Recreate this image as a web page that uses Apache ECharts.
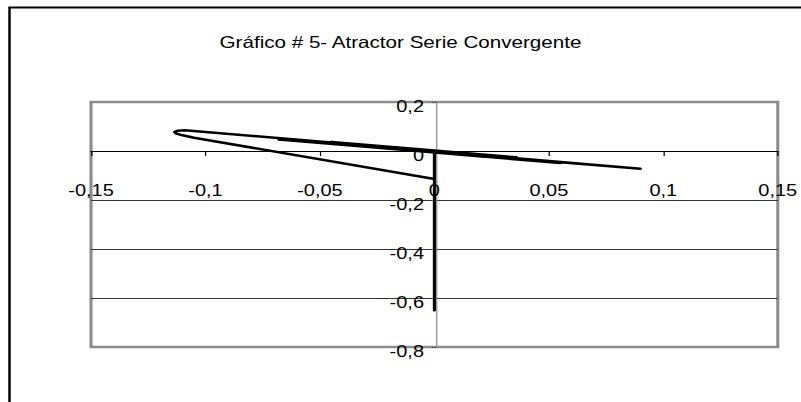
<!DOCTYPE html>
<html>
<head>
<meta charset="utf-8">
<script src="https://cdn.jsdelivr.net/npm/echarts@6/dist/echarts.min.js"></script>
<style>
html,body{margin:0;padding:0;background:#fff;overflow:hidden;}
#wrap{width:801px;height:402px;overflow:hidden;position:relative;}
#chart{width:641px;height:402px;transform:scaleX(1.24961);transform-origin:0 0;}
</style>
</head>
<body>
<div id="wrap"><div id="chart"></div></div>
<script>
// Data
const titleText = 'Gráfico # 5- Atractor Serie Convergente';
const xValues = [0, 0, 0, -0.105, -0.110, -0.1130, -0.1135, -0.112, -0.109, 0.090, -0.068, 0.055, -0.045, 0.036, -0.028, 0.022, -0.017, 0.013, -0.010, 0.008, -0.006, 0.004, -0.003, 0.002, -0.001, 0.0];
const yValues = [0, -0.65, -0.114, 0.054, 0.064, 0.072, 0.078, 0.083, 0.085, -0.072, 0.047, -0.049, 0.037, -0.026, 0.016, -0.023, 0.015, -0.008, 0.002, -0.012, 0.0065, -0.001, 0.0, -0.004, -0.0013, -0.002];
const xTicks = {min: -0.15, max: 0.15, step: 0.05};
const yTicks = {min: -0.8, max: 0.2, step: 0.2};

const seriesData = xValues.map((x, i) => [x, yValues[i]]);
const fmt = v => String(+v.toFixed(2)).replace('.', ',');
const FONT = 'Liberation Sans, Arial, sans-serif';

// layout (inner, unstretched coordinates)
const S = 1.24961;
const gridLeft = 91 / S, gridWidth = 691 / S, gridTop = 102, gridHeight = 245;
// axes cross at zero: offsets derived from the scales
const xAxisOffset = -gridHeight * (0 - yTicks.min) / (yTicks.max - yTicks.min);
const yAxisOffset = -gridWidth * (0 - xTicks.min) / (xTicks.max - xTicks.min);

const chart = echarts.init(document.getElementById('chart'), null, {renderer: 'svg'});
chart.setOption({
  animation: false,
  backgroundColor: '#fff',
  title: {
    text: titleText,
    left: 'center',
    top: 29,
    textStyle: {fontFamily: FONT, fontSize: 16.5, fontWeight: 'normal', color: '#000'}
  },
  graphic: [{
    type: 'rect', silent: true,
    shape: {x: 7.6, y: 7.5, width: 900, height: 500},
    style: {fill: 'none', stroke: '#000', lineWidth: 2}
  }],
  grid: {
    left: gridLeft, top: gridTop, width: gridWidth, height: gridHeight,
    show: true, borderColor: '#8c8c8c', borderWidth: 2.5, backgroundColor: 'transparent'
  },
  xAxis: {
    type: 'value',
    position: 'bottom',
    offset: xAxisOffset,
    min: xTicks.min, max: xTicks.max, interval: xTicks.step,
    axisLine: {show: true, onZero: false, lineStyle: {color: '#000', width: 1}},
    axisTick: {show: true, inside: false, length: 5, lineStyle: {color: '#000'}},
    axisLabel: {margin: 32, fontFamily: FONT, fontSize: 16, color: '#000', formatter: fmt},
    splitLine: {show: false}
  },
  yAxis: {
    type: 'value',
    position: 'left',
    offset: yAxisOffset,
    min: yTicks.min, max: yTicks.max, interval: yTicks.step,
    axisLine: {show: true, onZero: false, lineStyle: {color: '#8c8c8c', width: 1}},
    axisTick: {show: true, inside: false, length: 4, lineStyle: {color: '#555'}},
    axisLabel: {margin: 10, fontFamily: FONT, fontSize: 16, color: '#000', formatter: fmt,
      verticalAlign: 'top', lineHeight: 10},
    splitLine: {show: true, lineStyle: {color: ['#8c8c8c', '#333', '#333', '#333', '#333', '#8c8c8c'], width: 1}}
  },
  series: [{
    type: 'line',
    data: seriesData,
    showSymbol: false,
    symbol: 'none',
    lineStyle: {color: '#000', width: 2.5, join: 'round', cap: 'round'},
    z: 5
  }]
});
</script>
</body>
</html>
